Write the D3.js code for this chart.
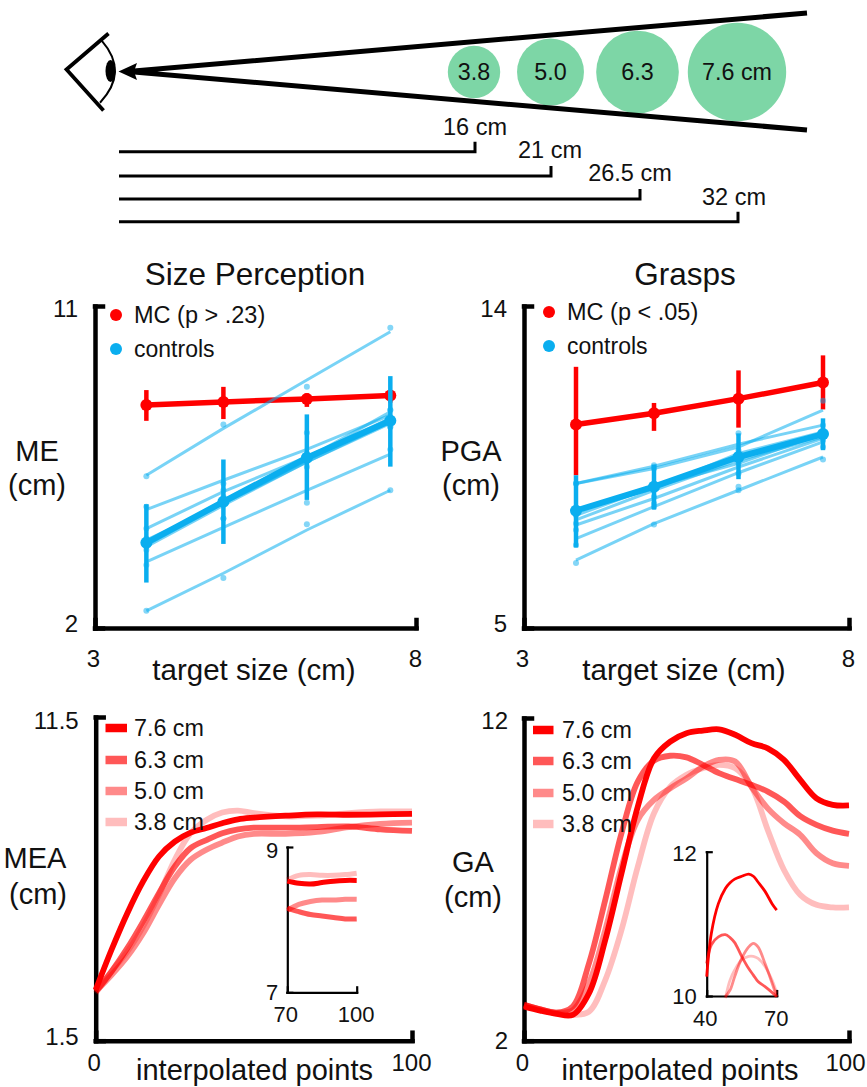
<!DOCTYPE html>
<html>
<head>
<meta charset="utf-8">
<script src="https://cdn.jsdelivr.net/npm/d3@7"></script>
<style>
  body { margin: 0; background: #fff; }
  text { font-family: "Liberation Sans", Arial, sans-serif; fill: #111; }
</style>
</head>
<body>
<div id="chart"></div>
<script>
// target sizes and viewing distances
const sizes = [3.8, 5.0, 6.3, 7.6];
const sizeLabels = ['3.8', '5.0', '6.3', '7.6 cm'];
const distances = [16, 21, 26.5, 32];
const distanceLabels = ['16 cm', '21 cm', '26.5 cm', '32 cm'];

// Size Perception (ME)
const meMC = [8.23, 8.32, 8.40, 8.50];
const meMCLow = [7.79, 7.84, 8.18, 8.30];
const meMCHigh = [8.65, 8.74, 8.56, 8.60];
const meMean = [4.38, 5.53, 6.76, 7.79];
const meLow = [3.27, 4.35, 5.58, 6.51];
const meHigh = [5.46, 6.71, 7.97, 9.04];
const meFits = [
  [6.27, 7.58, 8.93, 10.28],
  [5.31, 6.13, 6.99, 7.95],
  [4.78, 5.81, 6.78, 7.86],
  [4.27, 5.43, 6.64, 7.76],
  [4.32, 5.48, 6.69, 7.86],
  [4.46, 5.48, 6.64, 7.72],
  [3.85, 4.81, 5.85, 6.86],
  [2.48, 3.53, 4.74, 5.85],
  [4.36, 5.57, 6.74, 8.04]
];
const meDots = [
  [6.24, 7.69, 8.74, 10.39],
  [5.39, 6.04, 7.46, 8.09],
  [4.78, 5.85, 6.88, 7.90],
  [4.18, 5.06, 6.50, 7.62],
  [4.27, 5.48, 6.69, 7.76],
  [4.50, 5.62, 6.78, 7.62],
  [3.76, 5.06, 5.50, 6.99],
  [2.48, 3.40, 4.90, 5.85],
  [4.41, 5.67, 6.74, 8.09]
];

// Grasps (PGA)
const pgaMC = [10.69, 11.00, 11.41, 11.86];
const pgaMCLow = [9.27, 10.51, 10.60, 11.11];
const pgaMCHigh = [12.30, 11.29, 12.20, 12.62];
const pgaMean = [8.28, 8.95, 9.78, 10.42];
const pgaLow = [7.25, 8.31, 9.16, 9.97];
const pgaHigh = [9.27, 9.57, 10.44, 10.86];
const pgaFits = [
  [9.04, 9.52, 10.14, 10.67],
  [9.04, 9.46, 10.06, 11.09],
  [6.90, 7.92, 8.85, 9.78],
  [7.50, 8.39, 9.34, 10.20],
  [7.88, 8.62, 9.50, 10.30],
  [8.02, 8.85, 9.69, 10.34],
  [8.15, 8.95, 9.60, 10.44],
  [8.29, 8.90, 9.88, 10.48]
];
const pgaDots = [
  [9.04, 9.55, 10.44, 10.67],
  [9.04, 9.46, 9.97, 11.35],
  [6.82, 7.89, 8.85, 9.71],
  [7.32, 8.39, 8.95, 10.06],
  [7.74, 8.48, 9.32, 10.25],
  [7.92, 8.67, 9.69, 10.34],
  [8.15, 8.95, 9.60, 10.44],
  [8.29, 8.90, 9.88, 10.48]
];

// MEA trajectories, one value per 5 or 10 interpolated points
const meaX = [0, 5, 10, 15, 20, 25, 30, 35, 40, 45, 50, 60, 70, 80, 90, 100];
const mea76 = [3.07, 4.31, 5.44, 6.42, 7.19, 7.65, 7.93, 8.07, 8.22, 8.34, 8.39, 8.45, 8.49, 8.48, 8.49, 8.51];
const mea63 = [3.02, 3.64, 4.36, 5.18, 6.06, 6.88, 7.45, 7.70, 7.91, 8.03, 8.08, 8.08, 8.10, 8.12, 8.03, 7.98];
const mea50 = [3.02, 3.53, 4.10, 4.82, 5.70, 6.52, 7.09, 7.40, 7.62, 7.81, 7.89, 7.89, 7.95, 8.10, 8.20, 8.24];
const mea38 = [2.97, 3.64, 4.25, 5.03, 6.00, 7.09, 7.91, 8.32, 8.55, 8.61, 8.53, 8.43, 8.45, 8.53, 8.58, 8.58];

const meaInsetX = [70, 75, 80, 85, 90, 95, 100];
const meaInset76 = [8.53, 8.50, 8.49, 8.51, 8.53, 8.54, 8.54];
const meaInset63 = [8.16, 8.11, 8.07, 8.05, 8.03, 8.01, 8.01];
const meaInset50 = [8.13, 8.21, 8.25, 8.27, 8.27, 8.28, 8.28];
const meaInset38 = [8.55, 8.61, 8.62, 8.61, 8.61, 8.62, 8.64];

// GA trajectories
const gaX = [0, 5, 10, 15, 20, 25, 30, 35, 40, 45, 50, 55, 60, 65, 70, 75, 80, 85, 90, 95, 100];
const ga76 = [3.06, 2.93, 2.83, 2.80, 3.47, 5.12, 7.19, 9.25, 10.75, 11.27, 11.53, 11.61, 11.65, 11.48, 11.22, 11.06, 10.70, 10.08, 9.51, 9.31, 9.29];
const ga63 = [3.11, 2.97, 2.87, 3.06, 4.40, 6.36, 8.43, 10.03, 10.68, 10.83, 10.78, 10.55, 10.29, 10.11, 9.93, 9.72, 9.41, 8.96, 8.69, 8.51, 8.41];
const ga50 = [3.11, 2.97, 2.87, 2.95, 3.78, 5.43, 7.39, 8.84, 9.46, 9.82, 10.13, 10.49, 10.70, 10.65, 9.87, 9.20, 8.74, 8.38, 7.81, 7.50, 7.42];
const ga38 = [3.11, 2.97, 2.85, 2.80, 2.90, 3.88, 5.43, 7.39, 9.05, 9.87, 10.24, 10.44, 10.55, 10.44, 9.87, 8.53, 7.29, 6.52, 6.21, 6.13, 6.13];

const gaInsetX = [40, 42, 45, 48, 50, 52, 55, 58, 60, 62, 65, 68, 70];
const gaInset76 = [10.27, 10.87, 11.28, 11.49, 11.57, 11.62, 11.66, 11.69, 11.66, 11.58, 11.45, 11.28, 11.19];
const gaInset63 = [10.45, 10.71, 10.82, 10.85, 10.81, 10.74, 10.55, 10.38, 10.29, 10.20, 10.13, 10.05, 9.99];
const gaInset50 = [null, null, null, 9.99, 10.08, 10.27, 10.52, 10.68, 10.73, 10.68, 10.45, 10.18, 9.99];
const gaInset38 = [null, null, null, 9.97, 10.22, 10.36, 10.50, 10.55, 10.55, 10.52, 10.41, 10.22, 10.04];

const curveLabels = ['7.6 cm', '6.3 cm', '5.0 cm', '3.8 cm'];
const curveOpacity = [1, 0.66, 0.46, 0.26];

const RED = '#ff0000';
const BLUE = '#0aaeef';
const GREEN = '#7dd6a6';
const FS = 24;

const svg = d3.select('#chart').append('svg')
  .attr('width', 867).attr('height', 1087)
  .style('display', 'block');

function label(x, y, str, size, anchor) {
  return svg.append('text')
    .attr('x', x).attr('y', y)
    .attr('text-anchor', anchor || 'middle')
    .attr('dominant-baseline', 'central')
    .attr('font-size', size || FS)
    .text(str);
}

// Draw an open L shaped axis pair, returns scales
function drawAxes(o) {
  const x = d3.scaleLinear().domain(o.xDomain).range([o.left, o.right]);
  const y = d3.scaleLinear().domain(o.yDomain).range([o.bottom, o.top]);
  const fs = o.fontSize || FS;

  const gy = svg.append('g').attr('transform', `translate(${o.left},0)`)
    .call(d3.axisLeft(y).tickValues(o.yDomain).tickSize(-o.tick).tickSizeOuter(0)
      .tickPadding(o.padY).tickFormat(d => d));
  const gx = svg.append('g').attr('transform', `translate(0,${o.bottom})`)
    .call(d3.axisBottom(x).tickValues(o.xDomain).tickSize(-o.tick).tickSizeOuter(0)
      .tickPadding(o.padX).tickFormat(d => d));

  [gy, gx].forEach(g => {
    g.selectAll('.domain, .tick line')
      .attr('stroke', '#000').attr('stroke-width', o.weight)
      .attr('stroke-linecap', 'square');
    g.selectAll('.tick text')
      .attr('font-size', fs).attr('font-family', '"Liberation Sans", Arial, sans-serif')
      .attr('fill', '#111');
  });
  gy.selectAll('.tick text').attr('dy', (d, i) => (o.shiftY ? o.shiftY[i] : 0) + fs * 0.32);
  gx.selectAll('.tick text').attr('dx', (d, i) => (i === 0 ? -2 : (o.lastDx || -1)));
  return { x, y };
}

function drawSizePanel(o, mc, mcLow, mcHigh, mean, low, high, fits, dots, legendText) {
  const { x, y } = drawAxes(o);
  const line = d3.line().x((d, i) => x(sizes[i])).y(d => y(d));

  const errorBars = (lo, hi, color) => svg.append('g').selectAll('line')
    .data(sizes).join('line')
    .attr('x1', d => x(d)).attr('x2', d => x(d))
    .attr('y1', (d, i) => y(lo[i])).attr('y2', (d, i) => y(hi[i]))
    .attr('stroke', color).attr('stroke-width', 4.5);

  const meanDots = (vals, color) => svg.append('g').selectAll('circle')
    .data(vals).join('circle')
    .attr('cx', (d, i) => x(sizes[i])).attr('cy', d => y(d))
    .attr('r', 6).attr('fill', color);

  // patient first, controls go on top of it
  errorBars(mcLow, mcHigh, RED);
  svg.append('path').attr('d', line(mc)).attr('fill', 'none')
    .attr('stroke', RED).attr('stroke-width', 5.5);
  meanDots(mc, RED);

  fits.forEach(f => {
    svg.append('path').attr('d', line(f)).attr('fill', 'none')
      .attr('stroke', BLUE).attr('stroke-width', 3).attr('stroke-opacity', 0.55);
  });
  dots.forEach(row => {
    svg.append('g').selectAll('circle').data(row).join('circle')
      .attr('cx', (d, i) => x(sizes[i])).attr('cy', d => y(d))
      .attr('r', 3).attr('fill', BLUE).attr('fill-opacity', 0.5);
  });
  errorBars(low, high, BLUE);
  svg.append('path').attr('d', line(mean)).attr('fill', 'none')
    .attr('stroke', BLUE).attr('stroke-width', 6);
  meanDots(mean, BLUE);

  // legend
  svg.append('circle').attr('cx', o.legendX).attr('cy', o.legendY[0]).attr('r', 6).attr('fill', RED);
  svg.append('circle').attr('cx', o.legendX).attr('cy', o.legendY[1]).attr('r', 6).attr('fill', BLUE);
  label(o.legendX + 18, o.legendY[0], legendText, 23.5, 'start');
  label(o.legendX + 18, o.legendY[1], 'controls', 23, 'start');

  label(o.xLabelX, 669, 'target size (cm)', 29.5);
  label(o.titleX, 274, o.title, 31.5);
  label(o.yLabelX, 451, o.yLabel, 29);
  label(o.yLabelX, 485, '(cm)', 29);
}

function drawCurves(scales, xs, series, width) {
  const line = d3.line()
    .defined(d => d.v !== null)
    .x(d => scales.x(d.p)).y(d => scales.y(d.v))
    .curve(d3.curveCatmullRom.alpha(0.5));
  // smallest target first so 7.6 cm ends up on top
  series.map((vals, i) => ({ vals, i })).reverse().forEach(s => {
    svg.append('path')
      .attr('d', line(s.vals.map((v, j) => ({ p: xs[j], v }))))
      .attr('fill', 'none').attr('stroke', RED)
      .attr('stroke-opacity', curveOpacity[s.i]).attr('stroke-width', width);
  });
}

function curveLegend(x0, x1, textX, ys) {
  curveLabels.forEach((t, i) => {
    svg.append('line').attr('x1', x0).attr('x2', x1).attr('y1', ys[i]).attr('y2', ys[i])
      .attr('stroke', RED).attr('stroke-opacity', curveOpacity[i]).attr('stroke-width', 8.5);
    label(textX, ys[i], t, 23.3, 'start');
  });
}

// ---------- top schematic ----------
const distX = d3.scaleOrdinal().domain(distances).range([475, 551, 640, 738]);
const radius = d3.scaleLinear().domain([3.8, 7.6]).range([26.2, 49.2]);
const circleX = d3.scaleOrdinal().domain(sizes).range([474, 550.5, 637.5, 737]);

svg.append('g').selectAll('circle').data(sizes).join('circle')
  .attr('cx', d => circleX(d)).attr('cy', 72)
  .attr('r', d => radius(d)).attr('fill', GREEN);
sizes.forEach(s => {
  label(circleX(s), 72, sizeLabels[sizes.indexOf(s)], 23.3);
});

// sight lines
svg.append('path').attr('d', 'M807,13 L128,71.5 L807,130')
  .attr('fill', 'none').attr('stroke', '#000').attr('stroke-width', 5);
svg.append('path').attr('d', 'M118.5,71.5 L137,63 L134,71.5 L137,80 Z').attr('fill', '#000');

// eye
svg.append('path').attr('d', 'M108.5,33.5 L66.5,69.5 L103.5,110.5')
  .attr('fill', 'none').attr('stroke', '#000').attr('stroke-width', 3.8);
svg.append('path').attr('d', 'M101.7,40.7 Q129,72 100,102.7')
  .attr('fill', 'none').attr('stroke', '#000').attr('stroke-width', 2);
svg.append('ellipse').attr('cx', 110.5).attr('cy', 71).attr('rx', 5).attr('ry', 11).attr('fill', '#000');

// distance bars
const barY = [151.7, 176, 199, 221.7];
const distLabelX = [475, 550, 630, 734];
const distLabelY = [126.5, 150, 173, 196.5];
distances.forEach((d, i) => {
  svg.append('path')
    .attr('d', `M119,${barY[i]} H${distX(d)} V${barY[i] - 10}`)
    .attr('fill', 'none').attr('stroke', '#000').attr('stroke-width', 3);
  label(distLabelX[i], distLabelY[i], distanceLabels[i], 23.5);
});

// ---------- middle row ----------
drawSizePanel({
  left: 95, right: 416, top: 306, bottom: 628, xDomain: [3, 8], yDomain: [2, 11],
  tick: 8, weight: 4.5, padX: 22, padY: 17, shiftY: [-4, 3],
  legendX: 116, legendY: [315, 349], xLabelX: 254, titleX: 255, title: 'Size Perception',
  yLabel: 'ME', yLabelX: 37
}, meMC, meMCLow, meMCHigh, meMean, meLow, meHigh, meFits, meDots, 'MC (p > .23)');

drawSizePanel({
  left: 524, right: 849, top: 306, bottom: 628, xDomain: [3, 8], yDomain: [5, 14],
  tick: 8, weight: 4.5, padX: 22, padY: 17, shiftY: [-4, 3],
  legendX: 549, legendY: [312, 346], xLabelX: 684, titleX: 685, title: 'Grasps',
  yLabel: 'PGA', yLabelX: 471
}, pgaMC, pgaMCLow, pgaMCHigh, pgaMean, pgaLow, pgaHigh, pgaFits, pgaDots, 'MC (p < .05)');

// ---------- bottom row ----------
const meaScales = drawAxes({
  left: 95.7, right: 412, top: 717, bottom: 1040.7, xDomain: [0, 100], yDomain: [1.5, 11.5],
  tick: 8, weight: 4.5, padX: 13, padY: 17, shiftY: [-4, 4]
});
drawCurves(meaScales, meaX, [mea76, mea63, mea50, mea38], 5.8);
curveLegend(105.5, 127, 134, [728, 760, 791, 822]);
label(35, 858, 'MEA', 29);
label(38, 894, '(cm)', 29);
label(254.5, 1070, 'interpolated points', 29);

const meaInset = drawAxes({
  left: 287.3, right: 356.7, top: 847, bottom: 992.3, xDomain: [70, 100], yDomain: [7, 9],
  tick: 5, weight: 2.2, padX: 14, padY: 9, fontSize: 22, shiftY: [0, 3]
});
drawCurves(meaInset, meaInsetX, [meaInset76, meaInset63, meaInset50, meaInset38], 5);

const gaScales = drawAxes({
  left: 524, right: 849, top: 718, bottom: 1040.7, xDomain: [0, 100], yDomain: [2, 12],
  tick: 8, weight: 4.5, padX: 13, padY: 16, shiftY: [0, 3], lastDx: -4
});
drawCurves(gaScales, gaX, [ga76, ga63, ga50, ga38], 5.8);
curveLegend(533, 553.5, 562, [730, 761, 793, 824]);
label(473, 862, 'GA', 29);
label(473, 897, '(cm)', 29);
label(680, 1070, 'interpolated points', 29);

const gaInset = drawAxes({
  left: 706.7, right: 776.7, top: 851.7, bottom: 996, xDomain: [40, 70], yDomain: [10, 12],
  tick: 5, weight: 2.2, padX: 14, padY: 10, fontSize: 22, shiftY: [0, 2]
});
drawCurves(gaInset, gaInsetX, [gaInset76, gaInset63, gaInset50, gaInset38], 2.8);
</script>
</body>
</html>
